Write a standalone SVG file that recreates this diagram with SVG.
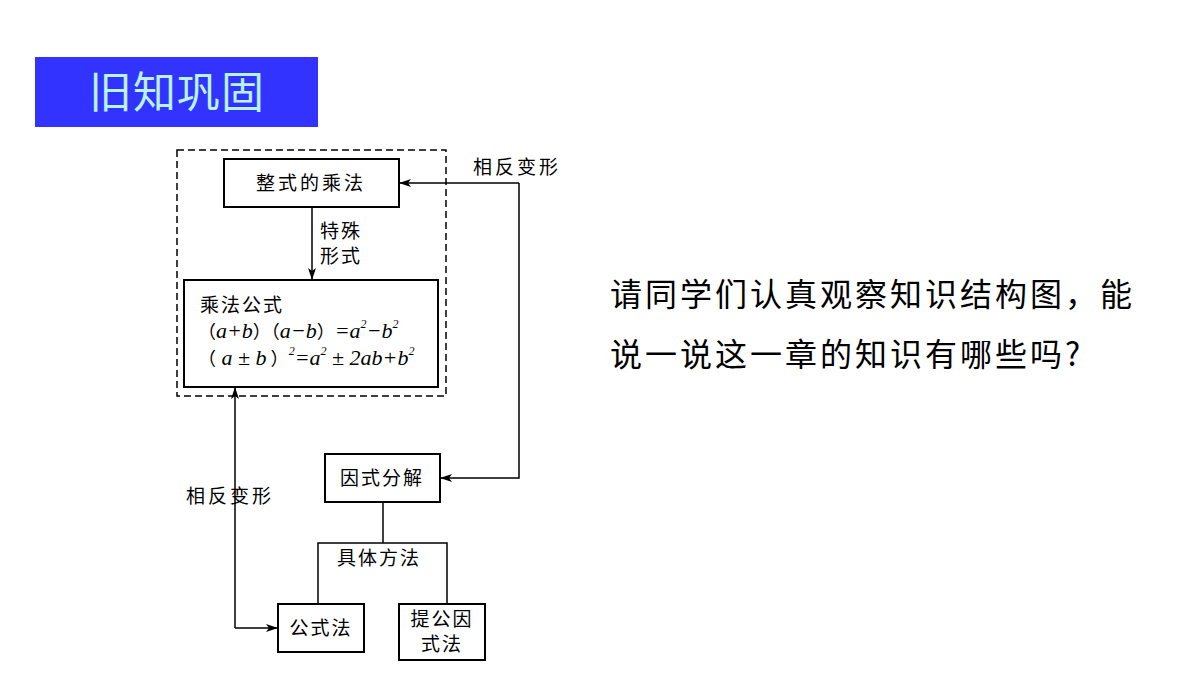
<svg xmlns="http://www.w3.org/2000/svg" width="1200" height="675" viewBox="0 0 1200 675">
<defs>
<style>
.b{fill:#fff;stroke:#000;stroke-width:2}
.l{fill:none;stroke:#000;stroke-width:1.5}
.t{font-family:"Noto Sans CJK SC","Liberation Serif",serif;font-size:19px;fill:#000}
.m{font-family:"Liberation Serif",serif;font-size:22px;font-style:italic;fill:#000}
.n{font-style:normal;font-family:"Noto Sans CJK SC",sans-serif;font-size:18px}
</style>
<marker id="a" markerWidth="12" markerHeight="8" refX="11" refY="4" orient="auto" markerUnits="userSpaceOnUse"><path d="M0,0 L12,4 L0,8 L3,4 Z" fill="#000"/></marker>
</defs>
<rect width="1200" height="675" fill="#fff"/>
<g id="title">
<rect x="35" y="57" width="283" height="70" fill="#3333ff"/>
<text x="89" y="108" font-family="Noto Sans CJK SC,sans-serif" font-size="43" fill="#b8f4ff" letter-spacing="1">旧知巩固</text>
</g>
<g id="question" font-family="Noto Sans CJK SC,sans-serif" font-size="32" fill="#000" letter-spacing="3">
<text x="610" y="306">请同学们认真观察知识结构图，能</text>
<text x="610" y="366">说一说这一章的知识有哪些吗?</text>
</g>
<g id="frame"><rect x="177" y="150" width="269" height="246" fill="none" stroke="#000" stroke-width="1.5" stroke-dasharray="7,4"/></g>
<g id="n1"><rect class="b" x="224" y="159" width="175" height="48"/><text class="t" x="311" y="190" text-anchor="middle" letter-spacing="3">整式的乘法</text></g>
<g id="n2"><rect class="b" x="184" y="280" width="254" height="107"/>
<text class="t" x="200" y="312" letter-spacing="2">乘法公式</text>
<text class="m" x="198" y="338"><tspan class="n">（</tspan>a+b<tspan class="n">）（</tspan>a−b<tspan class="n">）</tspan>=a<tspan font-size="12" dy="-10">2</tspan><tspan dy="10">−b</tspan><tspan font-size="12" dy="-10">2</tspan></text>
<text class="m" x="198" y="365"><tspan class="n">（</tspan> a ± b<tspan class="n"> ）</tspan><tspan font-size="12" dy="-10">2</tspan><tspan dy="10">=a</tspan><tspan font-size="12" dy="-10">2</tspan><tspan dy="10"> ± 2ab+b</tspan><tspan font-size="12" dy="-10">2</tspan></text>
</g>
<g id="n3"><rect class="b" x="325" y="454" width="115" height="48"/><text class="t" x="382" y="485" text-anchor="middle" letter-spacing="2">因式分解</text></g>
<g id="n4"><rect class="b" x="278" y="604" width="86" height="48"/><text class="t" x="321" y="635" text-anchor="middle" letter-spacing="2">公式法</text></g>
<g id="n5"><rect class="b" x="399" y="604" width="86" height="56"/><text class="t" x="442" y="626" text-anchor="middle" letter-spacing="2">提公因</text><text class="t" x="442" y="651" text-anchor="middle" letter-spacing="2">式法</text></g>
<g id="connectors">
<line class="l" x1="312" y1="207" x2="312" y2="279" marker-end="url(#a)"/>
<polyline class="l" points="519,183 519,478 441,478" marker-end="url(#a)"/>
<line class="l" x1="519" y1="183" x2="400" y2="183" marker-end="url(#a)"/>
<polyline class="l" points="235,628 235,388" marker-end="url(#a)"/>
<line class="l" x1="235" y1="628" x2="277" y2="628" marker-end="url(#a)"/>
<line class="l" x1="383" y1="502" x2="383" y2="543"/>
<polyline class="l" points="318,604 318,543 447,543 447,604"/>
</g>
<g id="labels">
<text class="t" x="320" y="238" letter-spacing="2">特殊</text>
<text class="t" x="320" y="263" letter-spacing="2">形式</text>
<text class="t" x="473" y="174" font-size="17" letter-spacing="3">相反变形</text>
<text class="t" x="186" y="503" font-size="17" letter-spacing="3">相反变形</text>
<text class="t" x="337" y="565" letter-spacing="2">具体方法</text>
</g>
</svg>
